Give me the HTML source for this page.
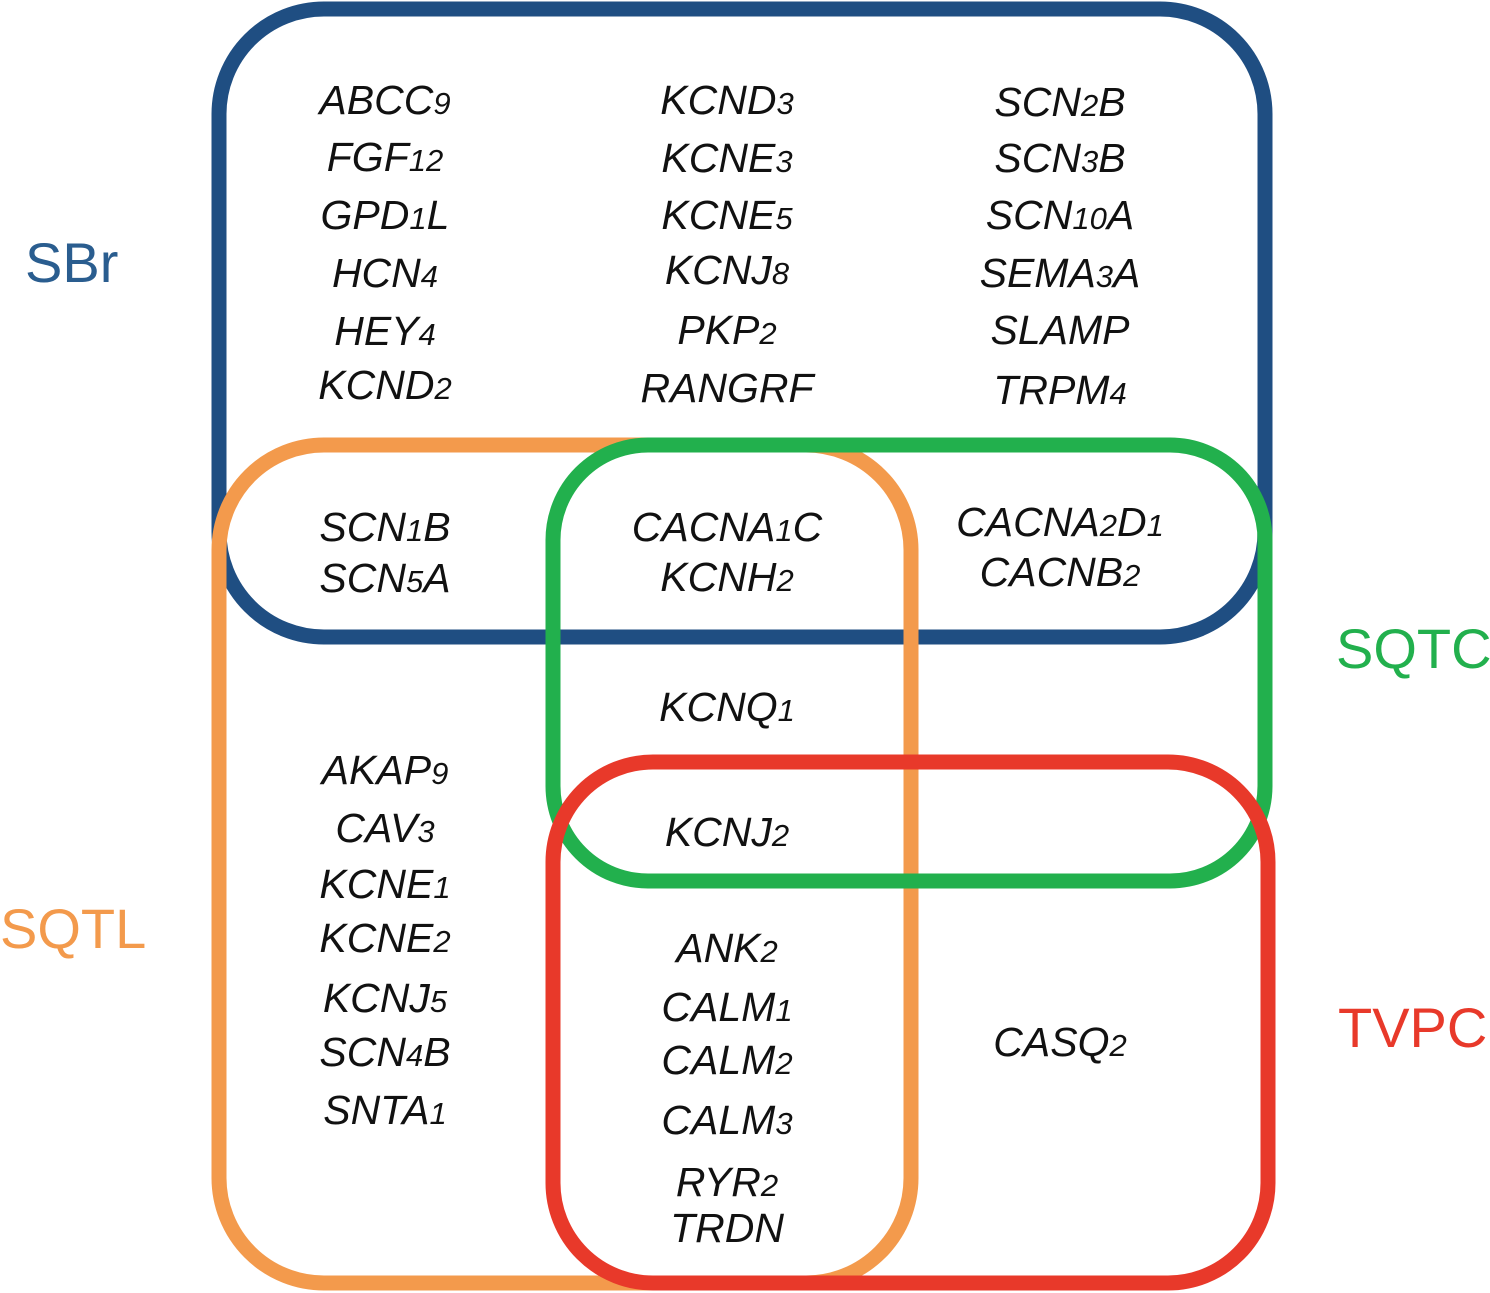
<!DOCTYPE html>
<html><head><meta charset="utf-8"><style>
html,body{margin:0;padding:0;background:#fff;}
svg{display:block;}
text{font-family:"Liberation Sans",sans-serif;}
.g{font-style:italic;font-size:41px;fill:#111;text-anchor:middle;}
.g tspan.n{font-size:31px;}
.l{font-size:56px;}
</style></head><body>
<svg width="1490" height="1293" viewBox="0 0 1490 1293">
<rect x="219" y="9" width="1046" height="628" rx="105" fill="none" stroke="#1f4e82" stroke-width="15"/>
<rect x="219" y="445" width="692" height="838" rx="105" fill="none" stroke="#f39a4c" stroke-width="15"/>
<rect x="553" y="445" width="712" height="436" rx="95" fill="none" stroke="#22b04d" stroke-width="15"/>
<rect x="553" y="762" width="715" height="521" rx="100" fill="none" stroke="#e8392a" stroke-width="15"/>

<text x="25" y="282" class="l" fill="#2a5d8f">SBr</text>
<text x="1336" y="668" class="l" fill="#22b04d">SQTC</text>
<text x="0" y="948" class="l" fill="#f39a4c">SQTL</text>
<text x="1338" y="1047" class="l" fill="#e8392a">TVPC</text>

<g class="g">
<text x="385" y="114" class="g">ABCC<tspan class="n">9</tspan></text>
<text x="385" y="171" class="g">FGF<tspan class="n">12</tspan></text>
<text x="385" y="229" class="g">GPD<tspan class="n">1</tspan>L</text>
<text x="385" y="287" class="g">HCN<tspan class="n">4</tspan></text>
<text x="385" y="345" class="g">HEY<tspan class="n">4</tspan></text>
<text x="385" y="399" class="g">KCND<tspan class="n">2</tspan></text>

<text x="727" y="114" class="g">KCND<tspan class="n">3</tspan></text>
<text x="727" y="172" class="g">KCNE<tspan class="n">3</tspan></text>
<text x="727" y="229" class="g">KCNE<tspan class="n">5</tspan></text>
<text x="727" y="284" class="g">KCNJ<tspan class="n">8</tspan></text>
<text x="727" y="344" class="g">PKP<tspan class="n">2</tspan></text>
<text x="727" y="402" class="g">RANGRF</text>

<text x="1060" y="116" class="g">SCN<tspan class="n">2</tspan>B</text>
<text x="1060" y="172" class="g">SCN<tspan class="n">3</tspan>B</text>
<text x="1060" y="229" class="g">SCN<tspan class="n">10</tspan>A</text>
<text x="1060" y="287" class="g">SEMA<tspan class="n">3</tspan>A</text>
<text x="1060" y="344" class="g">SLAMP</text>
<text x="1060" y="404" class="g">TRPM<tspan class="n">4</tspan></text>

<text x="385" y="541" class="g">SCN<tspan class="n">1</tspan>B</text>
<text x="385" y="592" class="g">SCN<tspan class="n">5</tspan>A</text>
<text x="727" y="541" class="g">CACNA<tspan class="n">1</tspan>C</text>
<text x="727" y="591" class="g">KCNH<tspan class="n">2</tspan></text>
<text x="1060" y="536" class="g">CACNA<tspan class="n">2</tspan>D<tspan class="n">1</tspan></text>
<text x="1060" y="586" class="g">CACNB<tspan class="n">2</tspan></text>

<text x="727" y="721" class="g">KCNQ<tspan class="n">1</tspan></text>
<text x="727" y="846" class="g">KCNJ<tspan class="n">2</tspan></text>

<text x="385" y="784" class="g">AKAP<tspan class="n">9</tspan></text>
<text x="385" y="842" class="g">CAV<tspan class="n">3</tspan></text>
<text x="385" y="898" class="g">KCNE<tspan class="n">1</tspan></text>
<text x="385" y="952" class="g">KCNE<tspan class="n">2</tspan></text>
<text x="385" y="1012" class="g">KCNJ<tspan class="n">5</tspan></text>
<text x="385" y="1066" class="g">SCN<tspan class="n">4</tspan>B</text>
<text x="385" y="1124" class="g">SNTA<tspan class="n">1</tspan></text>

<text x="727" y="962" class="g">ANK<tspan class="n">2</tspan></text>
<text x="727" y="1021" class="g">CALM<tspan class="n">1</tspan></text>
<text x="727" y="1074" class="g">CALM<tspan class="n">2</tspan></text>
<text x="727" y="1134" class="g">CALM<tspan class="n">3</tspan></text>
<text x="727" y="1196" class="g">RYR<tspan class="n">2</tspan></text>
<text x="727" y="1242" class="g">TRDN</text>
<text x="1060" y="1056" class="g">CASQ<tspan class="n">2</tspan></text>
</g>
</svg>
</body></html>
